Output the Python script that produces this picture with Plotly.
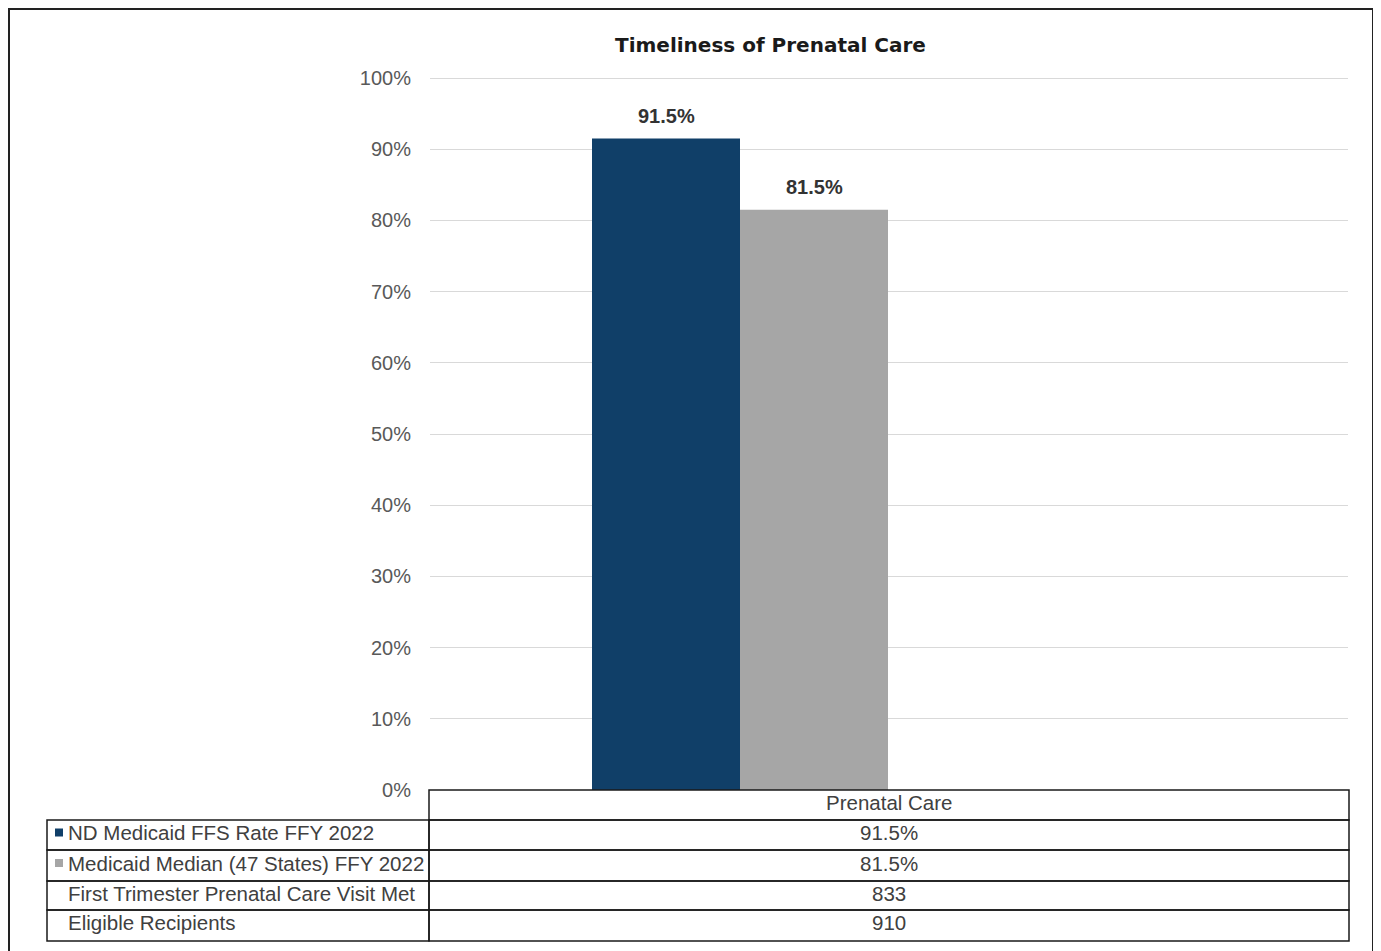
import plotly.graph_objects as go

categories = ["Prenatal Care"]
series_names = ["ND Medicaid FFS Rate FFY 2022", "Medicaid Median (47 States) FFY 2022"]
series_values = [[91.5], [81.5]]
series_colors = ["#103F68", "#A6A6A6"]
extra_rows = ["First Trimester Prenatal Care Visit Met", "Eligible Recipients"]
extra_values = [[833], [910]]
y_ticks = [0, 10, 20, 30, 40, 50, 60, 70, 80, 90, 100]
title = "Timeliness of Prenatal Care"

OFF = 8  # page body margin
W, H = 1381 - OFF, 951 - OFF
L, R, T, B = 430 - OFF, 1348 - OFF, 77 - OFF, 790 - OFF
FONT = "Liberation Sans, Arial, sans-serif"
TXT = "#404040"

fig = go.Figure()
for name, vals, col in zip(series_names, series_values, series_colors):
    fig.add_trace(go.Bar(x=categories, y=vals, name=name, marker_color=col,
                         marker_line_width=0, showlegend=False))

# axis geometry: group of bars spans 592..888 px (page), centred at 740 px
R_units = 1.0
px_per_unit = (R - L) / R_units
grp_center_px = 740 - OFF
grp_width_px = 296
r0 = -(grp_center_px - L) / px_per_unit
bargap = 1 - grp_width_px / px_per_unit
bar_w = grp_width_px / len(series_values) / px_per_unit


def px(x):
    return (x - OFF - L) / (R - L)


def py(y):
    return (B - (y - OFF)) / (B - T)


# data labels
for i, vals in enumerate(series_values):
    xc = -grp_width_px / px_per_unit / 2 + bar_w * (i + 0.5)
    fig.add_annotation(x=xc, y=vals[0], xref="x", yref="y", text=f"<b>{vals[0]:.1f}%</b>",
                       showarrow=False, xanchor="center", yanchor="bottom", yshift=10,
                       font=dict(family=FONT, size=20, color="#333333"))

# title
fig.add_annotation(x=px(770), y=py(45), xref="paper", yref="paper", text=f"<b>{title}</b>",
                   showarrow=False, font=dict(family="DejaVu Sans", size=20, color="#1a1a1a"),
                   xanchor="center", yanchor="middle")

# table
line = dict(color="#1a1a1a", width=1.5)
row_edges = [790, 820, 850, 881, 910, 941]
col_left, col_mid, col_right = 47, 429, 1349
TY = -2.5  # text vertical nudge
fig.add_shape(type="rect", xref="paper", yref="paper", x0=px(col_mid), x1=px(col_right),
              y0=py(row_edges[0]), y1=py(row_edges[1]), line=line)
fig.add_annotation(x=px((col_mid + col_right) / 2), y=py((row_edges[0] + row_edges[1]) / 2 + TY),
                   xref="paper", yref="paper", text=categories[0], showarrow=False,
                   xanchor="center", yanchor="middle",
                   font=dict(family=FONT, size=20.5, color=TXT))
labels = list(series_names) + list(extra_rows)
swatches = list(series_colors) + [None] * len(extra_rows)
values = [f"{v[0]:.1f}%" for v in series_values] + [str(v[0]) for v in extra_values]
for k, (lab, sw, val) in enumerate(zip(labels, swatches, values)):
    y0, y1 = row_edges[k + 1], row_edges[k + 2]
    yc = (y0 + y1) / 2
    fig.add_shape(type="rect", xref="paper", yref="paper", x0=px(col_left), x1=px(col_mid),
                  y0=py(y0), y1=py(y1), line=line)
    fig.add_shape(type="rect", xref="paper", yref="paper", x0=px(col_mid), x1=px(col_right),
                  y0=py(y0), y1=py(y1), line=line)
    if sw:
        fig.add_shape(type="rect", xref="paper", yref="paper", x0=px(55), x1=px(63),
                      y0=py(yc + TY + 4), y1=py(yc + TY - 4), line_width=0, fillcolor=sw)
    fig.add_annotation(x=px(66), y=py(yc + TY), xref="paper", yref="paper",
                       text=lab, showarrow=False, xanchor="left", yanchor="middle",
                       font=dict(family=FONT, size=20.5, color=TXT))
    fig.add_annotation(x=px((col_mid + col_right) / 2), y=py(yc + TY), xref="paper",
                       yref="paper", text=val, showarrow=False, xanchor="center", yanchor="middle",
                       font=dict(family=FONT, size=20.5, color=TXT))

# outer border
fig.add_shape(type="rect", xref="paper", yref="paper", x0=px(9), x1=px(1373),
              y0=py(970), y1=py(9), line=dict(color="#222", width=2))

fig.update_layout(
    width=W, height=H, margin=dict(l=L, r=W - R, t=T, b=H - B, autoexpand=False),
    plot_bgcolor="white", paper_bgcolor="white", barmode="group", bargap=bargap, bargroupgap=0,
    xaxis=dict(range=[r0, r0 + R_units], showticklabels=False, showgrid=False, zeroline=False,
               showline=False, ticks=""),
    yaxis=dict(range=[0, 100.15], tickvals=y_ticks, ticktext=[f"{v}%" for v in y_ticks],
               showgrid=True, gridcolor="#D9D9D9", gridwidth=1, zeroline=False, showline=False,
               ticks="", ticklabelstandoff=18,
               tickfont=dict(family=FONT, size=20, color="#595959")),
)
fig.write_html("out.html")
